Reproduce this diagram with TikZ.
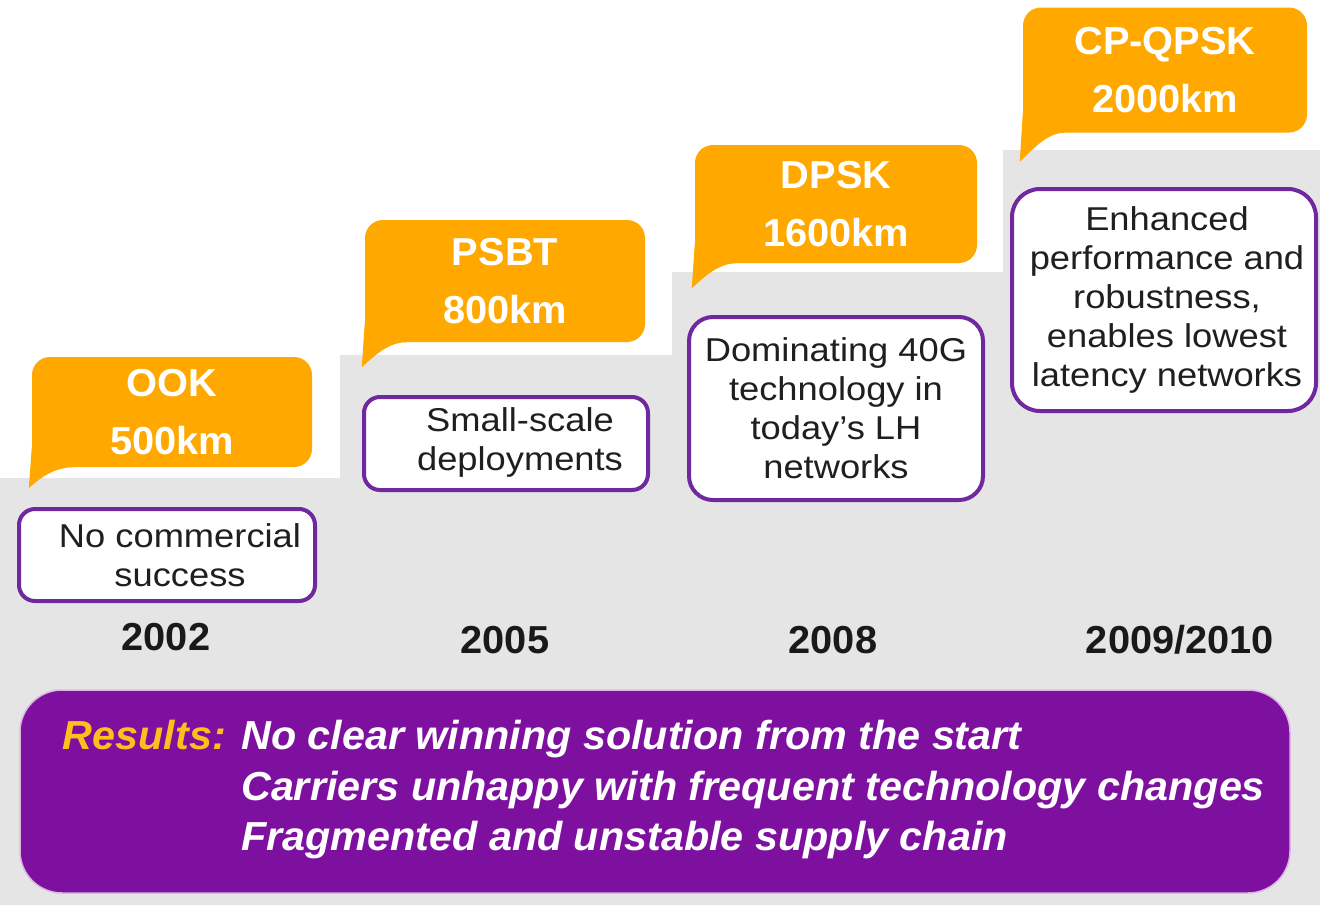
\documentclass[tikz,border=0pt]{standalone}
\usepackage{fontspec}
\setmainfont{Liberation Sans}[FakeStretch=1.1]
\newfontfamily\bsans{Liberation Sans}[FakeStretch=1.02]
\usetikzlibrary{calc}
\definecolor{corange}{RGB}{255,168,0}
\definecolor{cpurple}{RGB}{112,40,160}
\definecolor{rpurple}{RGB}{126,16,160}
\definecolor{cgray}{RGB}{229,229,229}
\definecolor{rorange}{RGB}{255,190,30}
\newcommand{\calltail}[2]{%
  \fill[corange] ($(#1.south west)+(0,-20)$) -- ($(#1.south west)+(-3,#2)$)
    .. controls ($(#1.south west)+(10,#2-12)$) and ($(#1.south west)+(24,0)$) ..
    ($(#1.south west)+(42,0)$) -- ($(#1.south west)+(42,-20)$) -- cycle;}
\begin{document}
\begin{tikzpicture}[x=1pt,y=-1pt,
  callout/.style={fill=corange, rounded corners=18pt, inner sep=0pt, text=white,
    font=\bsans\bfseries\fontsize{39}{58}\selectfont, align=center},
  wbox/.style={draw=cpurple, line width=4pt, fill=white, rounded corners=16pt, inner sep=0pt},
  wtext/.style={font=\fontsize{33}{39}\selectfont, align=center, text=black!88},
  year/.style={font=\bsans\bfseries\fontsize{39}{42}\selectfont, text=black!90},
  resline/.style={font=\bsans\bfseries\itshape\fontsize{40.5}{51}\selectfont, text=white, inner sep=0pt}]
\useasboundingbox (0,0) rectangle (1320,905);
\fill[white] (0,0) rectangle (1320,905);
% gray staircase
\fill[cgray] (0,905) -- (0,478) -- (340,478) -- (340,355) -- (672,355) -- (672,272)
  -- (1003,272) -- (1003,150) -- (1320,150) -- (1320,905) -- cycle;
% callouts
\node[callout, minimum width=280pt, minimum height=110pt] (c1) at (172,412) {OOK\\500km};
\node[callout, minimum width=280pt, minimum height=122pt] (c2) at (505,281) {PSBT\\800km};
\node[callout, minimum width=282pt, minimum height=118pt] (c3) at (836,204) {DPSK\\1600km};
\node[callout, minimum width=284pt, minimum height=125pt] (c4) at (1165,70) {CP-QPSK\\2000km};
\calltail{c1}{21}
\calltail{c2}{25}
\calltail{c3}{25}
\calltail{c4}{29}
% white boxes
\node[wbox, minimum width=296pt, minimum height=92pt] (b1) at (167,555) {};
\node[wbox, minimum width=284pt, minimum height=93pt] (b2) at (506,443.5) {};
\node[wbox, minimum width=294pt, minimum height=183pt, rounded corners=24pt] (b3) at (836,408.5) {};
\node[wbox, minimum width=304pt, minimum height=222pt, rounded corners=28pt] (b4) at (1164,300) {};
\node[wtext] (t1) at (180,555) {No commercial\\success};
\node[wtext] (t2) at (520,442) {Small-scale\\deployments};
\node[wtext] (t3) at (836,408) {Dominating 40G\\technology in\\today’s LH\\networks};
\node[wtext] (t4) at (1167,300) {Enhanced\\performance and\\robustness,\\enables lowest\\latency networks};
% years
\node[year] (y1) at (166,637) {2002};
\node[year] (y2) at (505,640) {2005};
\node[year] (y3) at (833,640) {2008};
\node[year] (y4) at (1180,640) {2009/2010};
% results
\node[fill=rpurple, draw=rpurple!30, line width=1.5pt, rounded corners=42pt, minimum width=1270pt, minimum height=203pt, inner sep=0pt] (rbox) at (655,791.5) {};
\node[resline, text=rorange, anchor=base east] (r0) at (226,749) {Results:};
\node[resline, anchor=base west] (r1) at (241,749) {No clear winning solution from the start};
\node[resline, anchor=base west] (r2) at (241,800) {Carriers unhappy with frequent technology changes};
\node[resline, anchor=base west] (r3) at (241,850) {Fragmented and unstable supply chain};
\end{tikzpicture}
\end{document}
